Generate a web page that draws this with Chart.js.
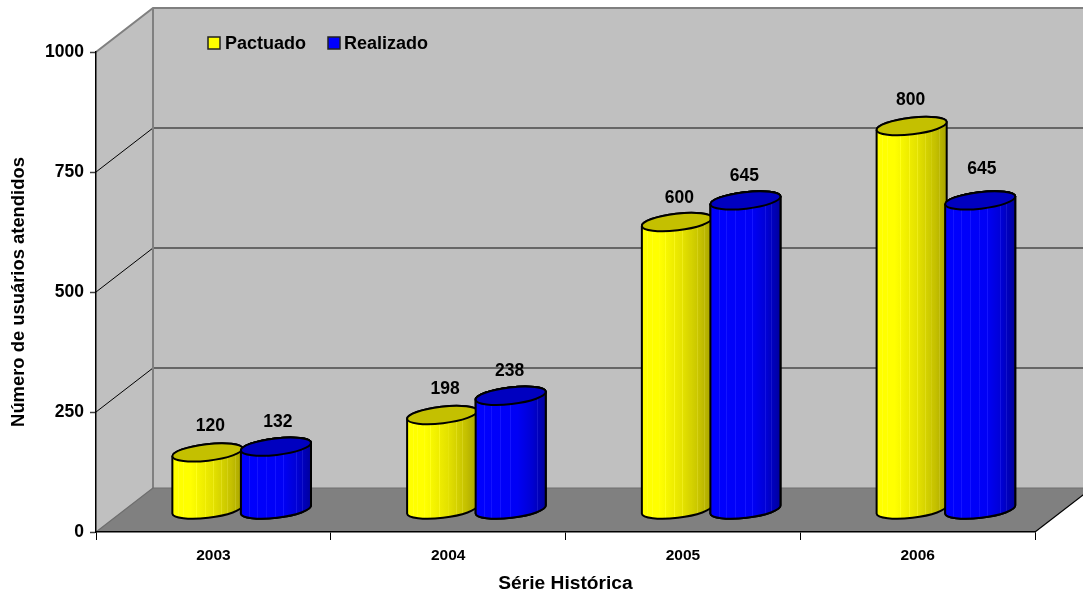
<!DOCTYPE html>
<html>
<head>
<meta charset="utf-8">
<style>html,body{margin:0;padding:0;background:#fff}canvas{display:block}</style>
<script src="https://cdn.jsdelivr.net/npm/chart.js@4"></script>
</head>
<body>
<canvas id="c" width="1083" height="597"></canvas>
<script>
const categories = ['2003', '2004', '2005', '2006'];
const pactuado = [120, 198, 600, 800];
const realizado = [132, 238, 645, 645];
const pactuadoLabel = 'Pactuado';
const realizadoLabel = 'Realizado';
const yTicks = [0, 250, 500, 750, 1000];
const yTitle = 'Número de usuários atendidos';
const xTitle = 'Série Histórica';

const FONT = '"Liberation Sans", Arial, sans-serif';
const WALL = {dx: 57, dy: -44};
const BAR = {dx: 28.3, dy: -22, tilt: -0.115, minor: 8.3, catPct: 0.584};
// hand-placed value labels in the reference: per series, per category, [x, y] nudge
const LABEL_NUDGE = [
  [[3, 1], [3, 1], [2.5, 3], [-1, 1]],
  [[2, 3], [-1, 2], [-1, 3], [1.7, -4]]
];
const STYLE = [
  {stops: [[0,[255,255,0]],[.25,[255,255,0]],[.6,[226,224,0]],[.85,[196,192,0]],[1,[170,165,0]]],
   lift: [10,10,24], top: '#c4c000',
   lines: [.07,.14,.24,.33,.46,.58,.7,.79,.9]},
  {stops: [[0,[0,0,255]],[.6,[0,0,245]],[.82,[0,0,210]],[1,[0,0,160]]],
   lift: [20,20,10], top: '#0000c0',
   lines: [.11,.22,.35,.49,.6,.79,.88]}
];

function baseRGB(st, f) {
  for (let i = 1; i < st.length; i++) {
    if (f <= st[i][0]) {
      const t = (f - st[i-1][0]) / (st[i][0] - st[i-1][0]);
      const a = st[i-1][1], b = st[i][1];
      return a.map((v, k) => Math.round(v + (b[k] - v) * t));
    }
  }
  return st[st.length-1][1];
}
const rgb = a => 'rgb(' + a.map(v => Math.min(255, v)).join(',') + ')';
function cylGradient(c) {
  const chart = c.chart, sx = chart.scales.x;
  if (!sx || c.dataIndex === undefined) return STYLE[c.datasetIndex].top;
  const cat = sx.getPixelForValue(1) - sx.getPixelForValue(0);
  const w = cat * BAR.catPct / 2;
  const xc = sx.getPixelForValue(c.dataIndex);
  const x0 = xc + (c.datasetIndex === 0 ? -w : 0);
  if (!isFinite(x0) || !isFinite(w) || w <= 0) return STYLE[c.datasetIndex].top;
  const g = chart.ctx.createLinearGradient(x0, 0, x0 + w, 0);
  const s = STYLE[c.datasetIndex];
  let stops = s.stops.map(p => [p[0], rgb(p[1])]);
  s.lines.forEach(f => {
    const b = baseRGB(s.stops, f), lc = rgb(b.map((v, k) => v + s.lift[k]));
    stops.push([f - .001, rgb(b)], [f, lc], [f + .012, lc], [f + .013, rgb(baseRGB(s.stops, f + .013))]);
  });
  stops.sort((a, b) => a[0] - b[0]).forEach(p => g.addColorStop(p[0], p[1]));
  return g;
}
function ends(cx, cy, a) {
  const ca = Math.cos(BAR.tilt) * a, sa = Math.sin(BAR.tilt) * a;
  return {lx: cx - ca, ly: cy - sa, rx: cx + ca, ry: cy + sa};
}
function outline(ctx, el) {
  const a = el.width / 2 + 1, t = BAR.tilt, b = BAR.minor;
  const e1 = ends(el.x, el.y, a);
  ctx.moveTo(e1.lx, e1.ly);
  ctx.ellipse(el.x, el.base, a, b, t, Math.PI, 0, true);
  ctx.lineTo(e1.rx, e1.ry);
  ctx.ellipse(el.x, el.y, a, b, t, 0, Math.PI, true);
  ctx.closePath();
}
function paintBody(ctx, els) {
  els.forEach(el => {
    ctx.fillStyle = el.options.backgroundColor;
    ctx.beginPath(); outline(ctx, el); ctx.fill();
  });
}
function paintEdges(ctx, els, index) {
  ctx.strokeStyle = '#000'; ctx.lineWidth = 2;
  els.forEach(el => {
    const a = el.width / 2 + 1;
    ctx.beginPath(); outline(ctx, el); ctx.stroke();
    ctx.fillStyle = STYLE[index].top;
    ctx.beginPath(); ctx.ellipse(el.x, el.y, a, BAR.minor, BAR.tilt, 0, Math.PI * 2); ctx.fill(); ctx.stroke();
  });
}

const scene = {
  id: 'scene',
  beforeDraw(chart) {
    const {ctx, chartArea: A, scales: {y}} = chart;
    const L = A.left, R = A.right, B = A.bottom, T = A.top;
    const bx = L + WALL.dx, dy = WALL.dy, far = R + WALL.dx;
    ctx.save();
    ctx.fillStyle = '#c0c0c0';
    ctx.beginPath(); ctx.moveTo(L, T); ctx.lineTo(bx, T + dy); ctx.lineTo(far, T + dy);
    ctx.lineTo(far, B + dy); ctx.lineTo(L, B); ctx.closePath(); ctx.fill();
    ctx.fillStyle = '#808080';
    ctx.beginPath(); ctx.moveTo(L, B); ctx.lineTo(bx, B + dy); ctx.lineTo(far, B + dy); ctx.lineTo(R, B); ctx.closePath(); ctx.fill();
    yTicks.forEach(v => {
      const p = y.getPixelForValue(v);
      if (v === 0 || v === 1000) return;
      ctx.strokeStyle = '#000'; ctx.lineWidth = 1;
      ctx.beginPath(); ctx.moveTo(L, p); ctx.lineTo(bx, p + dy); ctx.stroke();
      ctx.strokeStyle = '#484848'; ctx.lineWidth = 1.4;
      ctx.beginPath(); ctx.moveTo(bx, p + dy); ctx.lineTo(far, p + dy); ctx.stroke();
    });
    ctx.strokeStyle = '#808080'; ctx.lineWidth = 2;
    ctx.beginPath(); ctx.moveTo(L, T); ctx.lineTo(bx, T + dy); ctx.lineTo(far, T + dy);
    ctx.moveTo(bx, T + dy); ctx.lineTo(bx, B + dy); ctx.stroke();
    ctx.strokeStyle = '#6e6e6e'; ctx.lineWidth = 1.2;
    ctx.beginPath(); ctx.moveTo(bx, B + dy); ctx.lineTo(far, B + dy);
    ctx.moveTo(L, B); ctx.lineTo(bx, B + dy); ctx.stroke();
    ctx.strokeStyle = '#000'; ctx.lineWidth = 1.2;
    ctx.beginPath(); ctx.moveTo(R, B); ctx.lineTo(far, B + dy); ctx.stroke();
    ctx.restore();
  },
  beforeDatasetDraw(chart, args) {
    const {ctx} = chart, els = chart.getDatasetMeta(args.index).data;
    ctx.save();
    ctx.translate(BAR.dx, BAR.dy);
    paintBody(ctx, els);
    ctx.beginPath();
    els.forEach(el => outline(ctx, el));
    ctx.clip();
  },
  afterDatasetDraw(chart, args) {
    const {ctx} = chart, els = chart.getDatasetMeta(args.index).data;
    ctx.restore();
    ctx.save();
    ctx.translate(BAR.dx, BAR.dy);
    paintEdges(ctx, els, args.index);
    ctx.restore();
  },
  afterDatasetsDraw(chart) {
    const {ctx} = chart;
    // Chart.js paints the first series last; the second series sits in front in the reference.
    const front = chart.getDatasetMeta(1).data;
    ctx.save();
    ctx.translate(BAR.dx, BAR.dy);
    paintBody(ctx, front);
    paintEdges(ctx, front, 1);
    ctx.restore();

    ctx.save();
    ctx.fillStyle = '#000';
    ctx.font = 'bold 17.5px ' + FONT;
    ctx.textAlign = 'center'; ctx.textBaseline = 'middle';
    chart.data.datasets.forEach((ds, i) => {
      chart.getDatasetMeta(i).data.forEach((el, j) => {
        const n = LABEL_NUDGE[i][j];
        ctx.fillText(String(ds.data[j]), el.x + BAR.dx + n[0], el.y + BAR.dy - 27 + n[1]);
      });
    });
    ctx.textAlign = 'left';
    ctx.font = 'bold 18px ' + FONT;
    ctx.fillText(pactuadoLabel, 225, 44);
    ctx.fillText(realizadoLabel, 344, 44);
    [[208, '#ffff00'], [328, '#0000ff']].forEach(([x, col]) => {
      ctx.fillStyle = col; ctx.strokeStyle = '#222'; ctx.lineWidth = 1.5;
      ctx.fillRect(x, 37, 12, 12); ctx.strokeRect(x, 37, 12, 12);
    });
    ctx.restore();
  }
};

new Chart(document.getElementById('c'), {
  type: 'bar',
  data: {
    labels: categories,
    datasets: [
      {label: pactuadoLabel, data: pactuado, backgroundColor: cylGradient, borderWidth: 0, clip: false,
       categoryPercentage: BAR.catPct, barPercentage: 1},
      {label: realizadoLabel, data: realizado, backgroundColor: cylGradient, borderWidth: 0, clip: false,
       categoryPercentage: BAR.catPct, barPercentage: 1}
    ]
  },
  options: {
    responsive: false,
    animation: false,
    devicePixelRatio: 1,
    layout: {padding: {left: 0, top: 52, right: 48, bottom: 0}},
    plugins: {legend: {display: false}, tooltip: {enabled: false}, title: {display: false}},
    scales: {
      x: {
        afterFit(s) { s.height = 65; },
        grid: {drawOnChartArea: false, color: '#000', tickLength: 8, tickWidth: 1},
        border: {color: '#000', width: 1.5},
        ticks: {color: '#000', padding: 6, font: {family: FONT, weight: 'bold', size: 15.5}, maxRotation: 0},
        title: {display: true, text: xTitle, color: '#000', font: {family: FONT, weight: 'bold', size: 19.2}, padding: {top: 0, bottom: 2}}
      },
      y: {
        min: 0, max: 1000,
        afterFit(s) { s.width = 96; },
        afterBuildTicks(s) { s.ticks = yTicks.map(v => ({value: v})); },
        grid: {drawOnChartArea: false, color: '#404040', tickLength: 6, tickWidth: 1.5},
        border: {color: '#000', width: 1.5},
        ticks: {color: '#000', padding: 6, font: {family: FONT, weight: 'bold', size: 17.5}, callback: v => String(v)},
        title: {display: true, text: yTitle, color: '#000', font: {family: FONT, weight: 'bold', size: 18.4}, padding: {top: 8, bottom: 0}}
      }
    }
  },
  plugins: [scene]
});
</script>
</body>
</html>
